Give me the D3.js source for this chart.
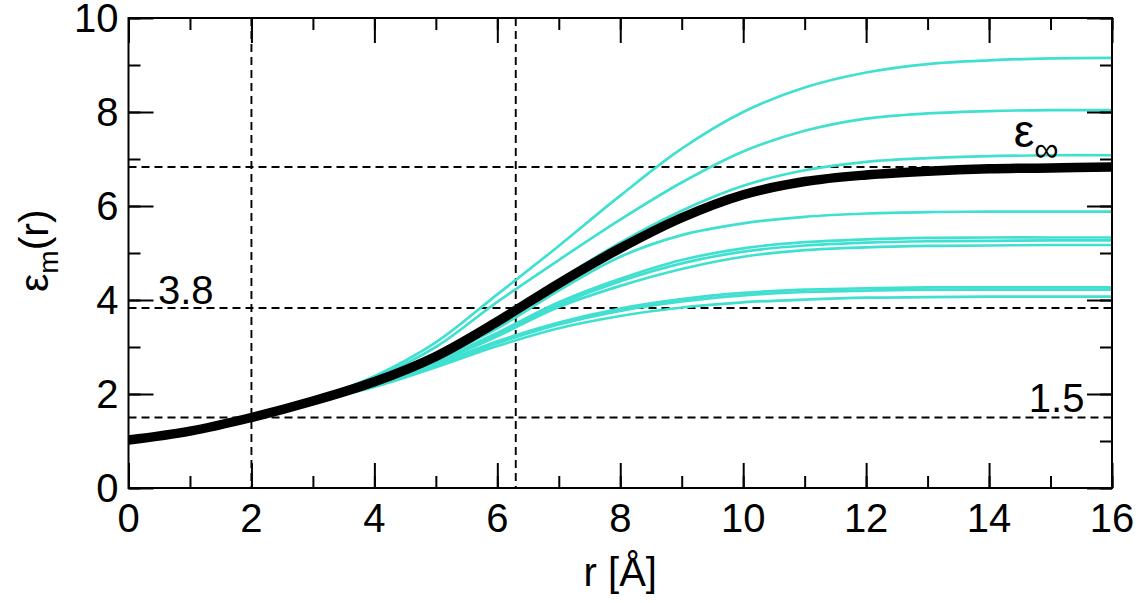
<!DOCTYPE html>
<html>
<head>
<meta charset="utf-8">
<script src="https://cdn.jsdelivr.net/npm/d3@7"></script>
<style>
  body { margin: 0; background: #fff; }
  text { font-family: "Liberation Sans", Arial, sans-serif; fill: #000; }
</style>
</head>
<body>
<div id="chart"></div>
<script>
// r grid (Å)
const rValues = [0, 1, 2, 3, 4, 5, 6, 7, 8, 9, 10, 11, 12, 13, 14, 15, 16];

// thick black reference curve
const epsMean = [1.02, 1.21, 1.50, 1.85, 2.26, 2.80, 3.54, 4.35, 5.10, 5.75, 6.24, 6.52, 6.66, 6.74, 6.79, 6.81, 6.83];

// individual curves (turquoise)
const eps1 = [1.02, 1.21, 1.50, 1.88, 2.38, 3.10, 4.12, 5.15, 6.22, 7.22, 8.00, 8.52, 8.84, 9.02, 9.10, 9.14, 9.15];
const eps2 = [1.02, 1.21, 1.50, 1.87, 2.34, 3.00, 3.96, 4.85, 5.71, 6.50, 7.16, 7.60, 7.86, 7.97, 8.02, 8.04, 8.04];
const eps3 = [1.02, 1.21, 1.50, 1.85, 2.28, 2.85, 3.60, 4.42, 5.22, 5.90, 6.43, 6.76, 6.94, 7.02, 7.06, 7.08, 7.08];
const eps4 = [1.02, 1.21, 1.50, 1.84, 2.24, 2.75, 3.40, 4.20, 4.92, 5.38, 5.63, 5.77, 5.84, 5.87, 5.88, 5.88, 5.88];
const eps5 = [1.02, 1.21, 1.50, 1.84, 2.22, 2.70, 3.30, 3.95, 4.45, 4.85, 5.10, 5.23, 5.29, 5.32, 5.33, 5.33, 5.33];
const eps6 = [1.02, 1.21, 1.50, 1.84, 2.21, 2.68, 3.27, 3.90, 4.40, 4.78, 5.03, 5.16, 5.22, 5.25, 5.26, 5.27, 5.27];
const eps7 = [1.02, 1.21, 1.50, 1.84, 2.20, 2.66, 3.23, 3.85, 4.30, 4.66, 4.92, 5.06, 5.12, 5.15, 5.16, 5.17, 5.17];
const eps8 = [1.02, 1.21, 1.50, 1.83, 2.18, 2.62, 3.12, 3.52, 3.82, 4.02, 4.15, 4.22, 4.25, 4.27, 4.27, 4.27, 4.27];
const eps9 = [1.02, 1.21, 1.50, 1.83, 2.17, 2.60, 3.08, 3.48, 3.77, 3.97, 4.10, 4.17, 4.20, 4.22, 4.22, 4.22, 4.22];
const eps10 = [1.02, 1.21, 1.50, 1.83, 2.15, 2.57, 3.02, 3.40, 3.66, 3.84, 3.95, 4.01, 4.05, 4.06, 4.07, 4.07, 4.07];

const curves = [eps1, eps2, eps3, eps4, eps5, eps6, eps7, eps8, eps9, eps10];

// reference guide lines
const guideY = [1.5, 3.83, 6.83];
const guideX = [2, 6.3];

const xTicks = [0, 2, 4, 6, 8, 10, 12, 14, 16];
const yTicks = [0, 2, 4, 6, 8, 10];

const W = 1140, H = 603;
const margin = {top: 18, right: 28, bottom: 115, left: 128.5};
const width = W - margin.left - margin.right;
const height = H - margin.top - margin.bottom;

const svg = d3.select("#chart").append("svg")
    .attr("width", W)
    .attr("height", H);

const g = svg.append("g")
    .attr("transform", `translate(${margin.left},${margin.top})`);

const x = d3.scaleLinear().domain([0, 16]).range([0, width]);
const y = d3.scaleLinear().domain([0, 10]).range([height, 0]);

// dashed guides
g.selectAll(".gy").data(guideY).enter().append("line")
    .attr("x1", 0).attr("x2", width)
    .attr("y1", d => y(d)).attr("y2", d => y(d))
    .attr("stroke", "#000").attr("stroke-width", 1.9)
    .attr("stroke-dasharray", "8,5");

g.selectAll(".gx").data(guideX).enter().append("line")
    .attr("y1", 0).attr("y2", height)
    .attr("x1", d => x(d)).attr("x2", d => x(d))
    .attr("stroke", "#000").attr("stroke-width", 1.9)
    .attr("stroke-dasharray", "8,5");

const line = d3.line()
    .x((d, i) => x(rValues[i]))
    .y(d => y(d))
    .curve(d3.curveCatmullRom.alpha(0.5));

// turquoise curves
g.selectAll(".cyan").data(curves).enter().append("path")
    .attr("d", line)
    .attr("fill", "none")
    .attr("stroke", "#40E0D0")
    .attr("stroke-width", 2.7);

// black curve
g.append("path")
    .attr("d", line(epsMean))
    .attr("fill", "none")
    .attr("stroke", "#000")
    .attr("stroke-width", 9.5);

// frame
g.append("rect")
    .attr("width", width).attr("height", height)
    .attr("fill", "none").attr("stroke", "#000").attr("stroke-width", 2);

// inward ticks (major + minor) on all four sides
const xMinor = x.ticks(16);
const yMinor = y.ticks(10);

function tickAxis(axisFn, scale, values, size, tx, ty) {
    g.append("g")
        .attr("transform", `translate(${tx},${ty})`)
        .call(axisFn(scale).tickValues(values).tickSize(size).tickFormat("").tickSizeOuter(0));
}

tickAxis(d3.axisTop, x, xMinor, 12, 0, height);
tickAxis(d3.axisTop, x, xTicks, 25, 0, height);
tickAxis(d3.axisBottom, x, xMinor, 12, 0, 0);
tickAxis(d3.axisBottom, x, xTicks, 25, 0, 0);
tickAxis(d3.axisRight, y, yMinor, 12, 0, 0);
tickAxis(d3.axisRight, y, yTicks, 25, 0, 0);
tickAxis(d3.axisLeft, y, yMinor, 12, width, 0);
tickAxis(d3.axisLeft, y, yTicks, 25, width, 0);

g.selectAll(".domain").remove();
g.selectAll(".tick line").attr("stroke", "#000").attr("stroke-width", 2);

// tick labels
g.selectAll(".xl").data(xTicks).enter().append("text")
    .attr("x", d => x(d)).attr("y", height + 44)
    .attr("text-anchor", "middle")
    .attr("font-size", 40)
    .text(d => d);

g.selectAll(".yl").data(yTicks).enter().append("text")
    .attr("x", -10).attr("y", d => y(d) + 14)
    .attr("text-anchor", "end")
    .attr("font-size", 40)
    .text(d => d);

// axis titles
svg.append("text")
    .attr("x", margin.left + x(8)).attr("y", 586)
    .attr("text-anchor", "middle")
    .attr("font-size", 40)
    .text("r [Å]");

const yl = svg.append("text")
    .attr("transform", `translate(48,${margin.top + y(5.05)}) rotate(-90)`)
    .attr("text-anchor", "middle")
    .attr("font-size", 41);
yl.append("tspan").text("ε");
yl.append("tspan").attr("font-size", 28).attr("dy", 10).text("m");
yl.append("tspan").attr("dy", -10).text("(r)");

// annotations
g.append("text")
    .attr("x", x(0.48)).attr("y", y(3.83) - 4)
    .attr("font-size", 40)
    .text("3.8");

g.append("text")
    .attr("x", x(15.1)).attr("y", y(1.5) - 6)
    .attr("text-anchor", "middle")
    .attr("font-size", 40)
    .text("1.5");

const einf = g.append("text")
    .attr("x", x(14.4)).attr("y", y(7.25))
    .attr("font-size", 46);
einf.append("tspan").text("ε");
einf.append("tspan").attr("font-size", 34).attr("dy", 14).text("∞");
</script>
</body>
</html>
